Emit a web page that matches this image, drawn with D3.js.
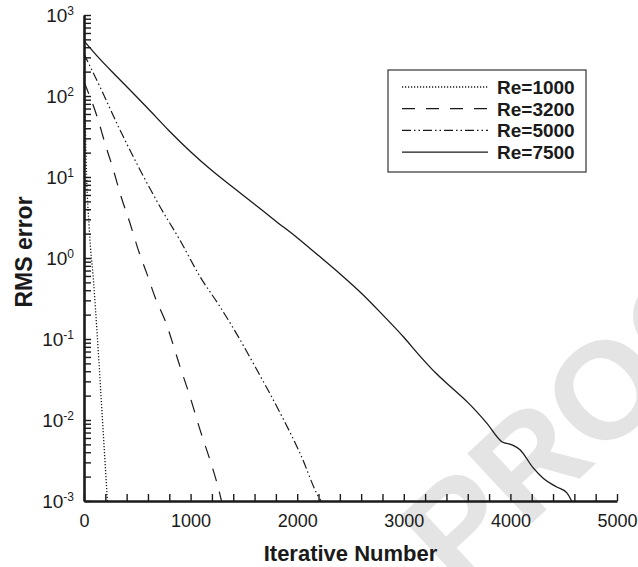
<!DOCTYPE html>
<html>
<head>
<meta charset="utf-8">
<title>RMS error vs Iterative Number</title>
<script src="https://d3js.org/d3.v7.min.js"></script>
<style>
    body { margin: 0; background: #fff; }
    text { font-family: "Liberation Sans", Arial, Helvetica, sans-serif; fill: #1a1a1a; }
</style>
</head>
<body>
<svg width="638" height="567"></svg>
<script>
    // data (iteration, RMS error)
    var iter1000 = [0, 10, 20, 50, 90, 125, 150, 185, 220];
    var rms1000 = [200, 63, 16, 2.2, 0.5, 0.107, 0.032, 0.0056, 0.001];

    var iter3200 = [0, 134, 197, 275, 338, 431, 509, 588, 666, 760, 900, 994, 1088, 1182, 1260, 1290];
    var rms3200 = [150, 50, 26, 12.3, 6.3, 2.7, 1.26, 0.65, 0.33, 0.17, 0.046, 0.0195, 0.0076, 0.0032, 0.00145, 0.001];

    var iter5000 = [0, 166, 338, 525, 713, 900, 1088, 1276, 1447, 1620, 1839, 2026, 2214, 2225];
    var rms5000 = [330, 117, 38, 12.3, 4.3, 1.66, 0.59, 0.25, 0.107, 0.042, 0.0123, 0.0039, 0.00105, 0.001];

    var iter7500 = [0, 150, 300, 450, 600, 800, 1000, 1200, 1400, 1600, 1800, 2000, 2200, 2400, 2600, 2800,
        3000, 3150, 3300, 3450, 3600, 3780, 3920, 4020, 4090, 4210, 4310, 4430, 4530, 4574];
    var rms7500 = [480, 285, 178, 112, 70, 37, 20.5, 12, 7.4, 4.6, 2.85, 1.78, 1.07, 0.64, 0.37, 0.2,
        0.105, 0.062, 0.038, 0.025, 0.0165, 0.0091, 0.0054, 0.0049, 0.0043, 0.0026, 0.0019, 0.0015, 0.00126, 0.001];

    var seriesNames = ["Re=1000", "Re=3200", "Re=5000", "Re=7500"];
    var xTickValues = d3.range(0, 5001, 200);
    var yExponents = [-3, -2, -1, 0, 1, 2, 3];

    var svg = d3.select("svg");
    var marge = {top: 15, bottom: 66, left: 84, right: 21};
    var width = +svg.attr("width");
    var height = +svg.attr("height");

    var x = d3.scaleLinear().domain([0, 5000]).range([marge.left, width - marge.right]);
    var y = d3.scaleLog().domain([1e-3, 1e3]).range([height - marge.bottom, marge.top]);

    // watermark behind everything
    svg.append("text")
        .attr("transform", "translate(458,592) rotate(-43)")
        .attr("font-size", 138)
        .attr("font-weight", "bold")
        .style("fill", "#e4e4e4")
        .text("PROOFS");

    // curves
    var series = [
        {name: seriesNames[0], xs: iter1000, ys: rms1000, dash: "1.2,1.8", w: 1.3},
        {name: seriesNames[1], xs: iter3200, ys: rms3200, dash: "13,11", w: 1.2},
        {name: seriesNames[2], xs: iter5000, ys: rms5000, dash: "9,3,1.5,3,1.5,3", w: 1.2},
        {name: seriesNames[3], xs: iter7500, ys: rms7500, dash: null, w: 1.3}
    ];

    var line = d3.line()
        .x(function (d) { return x(d[0]); })
        .y(function (d) { return y(d[1]); })
        .curve(d3.curveMonotoneX);

    svg.append("g").selectAll("path")
        .data(series)
        .enter()
        .append("path")
        .attr("d", function (s) { return line(d3.zip(s.xs, s.ys)); })
        .attr("fill", "none")
        .attr("stroke", "#1a1a1a")
        .attr("stroke-width", function (s) { return s.w; })
        .attr("stroke-dasharray", function (s) { return s.dash; });

    // y axis: ticks inward at every 1..9 x 10^n
    var yMinor = [];
    yExponents.forEach(function (e) {
        if (e === 3) { yMinor.push(1000); return; }
        for (var k = 1; k <= 9; k++) yMinor.push(k * Math.pow(10, e));
    });

    var gy = svg.append("g")
        .attr("transform", "translate(" + marge.left + ",0)")
        .call(d3.axisLeft(y).tickValues(yMinor).tickSize(-7).tickSizeOuter(0).tickFormat(""));

    var gx = svg.append("g")
        .attr("transform", "translate(0," + (height - marge.bottom) + ")")
        .call(d3.axisBottom(x).tickValues(xTickValues).tickSize(-7).tickSizeOuter(0).tickPadding(13)
            .tickFormat(function (d) { return d % 1000 === 0 ? d : ""; }));

    [gx, gy].forEach(function (g) {
        g.attr("font-family", null).attr("font-size", 18);
        g.select(".domain").attr("stroke", "#1a1a1a").attr("stroke-width", 2.6);
        g.selectAll(".tick line").attr("stroke", "#1a1a1a").attr("stroke-width", 1.4);
        g.selectAll(".tick text").style("fill", "#1a1a1a");
    });

    // y labels 10^n
    var ylab = svg.append("g").selectAll("text")
        .data(yExponents)
        .enter()
        .append("text")
        .attr("x", 74)
        .attr("y", function (e) { return y(Math.pow(10, e)) + 7; })
        .attr("text-anchor", "end")
        .attr("font-size", 19);
    ylab.append("tspan").text("10");
    ylab.append("tspan")
        .attr("dy", -7)
        .attr("font-size", 12)
        .text(function (e) { return e; });

    // axis titles
    svg.append("text")
        .attr("x", (x(0) + x(5000)) / 2)
        .attr("y", 561)
        .attr("text-anchor", "middle")
        .attr("font-size", 22)
        .attr("font-weight", "bold")
        .text("Iterative Number");

    svg.append("text")
        .attr("transform", "translate(32,252) rotate(-90)")
        .attr("text-anchor", "middle")
        .attr("font-size", 23)
        .attr("font-weight", "bold")
        .text("RMS error");

    // legend
    var legend = svg.append("g");
    legend.append("rect")
        .attr("x", 388).attr("y", 70)
        .attr("width", 198).attr("height", 102)
        .attr("fill", "#fff")
        .attr("stroke", "#333")
        .attr("stroke-width", 1.2);

    var rows = legend.selectAll(".row")
        .data(series)
        .enter()
        .append("g")
        .attr("transform", function (d, i) { return "translate(0," + (87 + i * 21.7) + ")"; });
    rows.append("line")
        .attr("x1", 402).attr("x2", 488)
        .attr("stroke", "#1a1a1a")
        .attr("stroke-width", function (s) { return s.w; })
        .attr("stroke-dasharray", function (s) { return s.dash; });
    rows.append("text")
        .attr("x", 497)
        .attr("dy", "0.36em")
        .attr("font-size", 19)
        .attr("font-weight", "bold")
        .text(function (s) { return s.name; });
</script>
</body>
</html>
